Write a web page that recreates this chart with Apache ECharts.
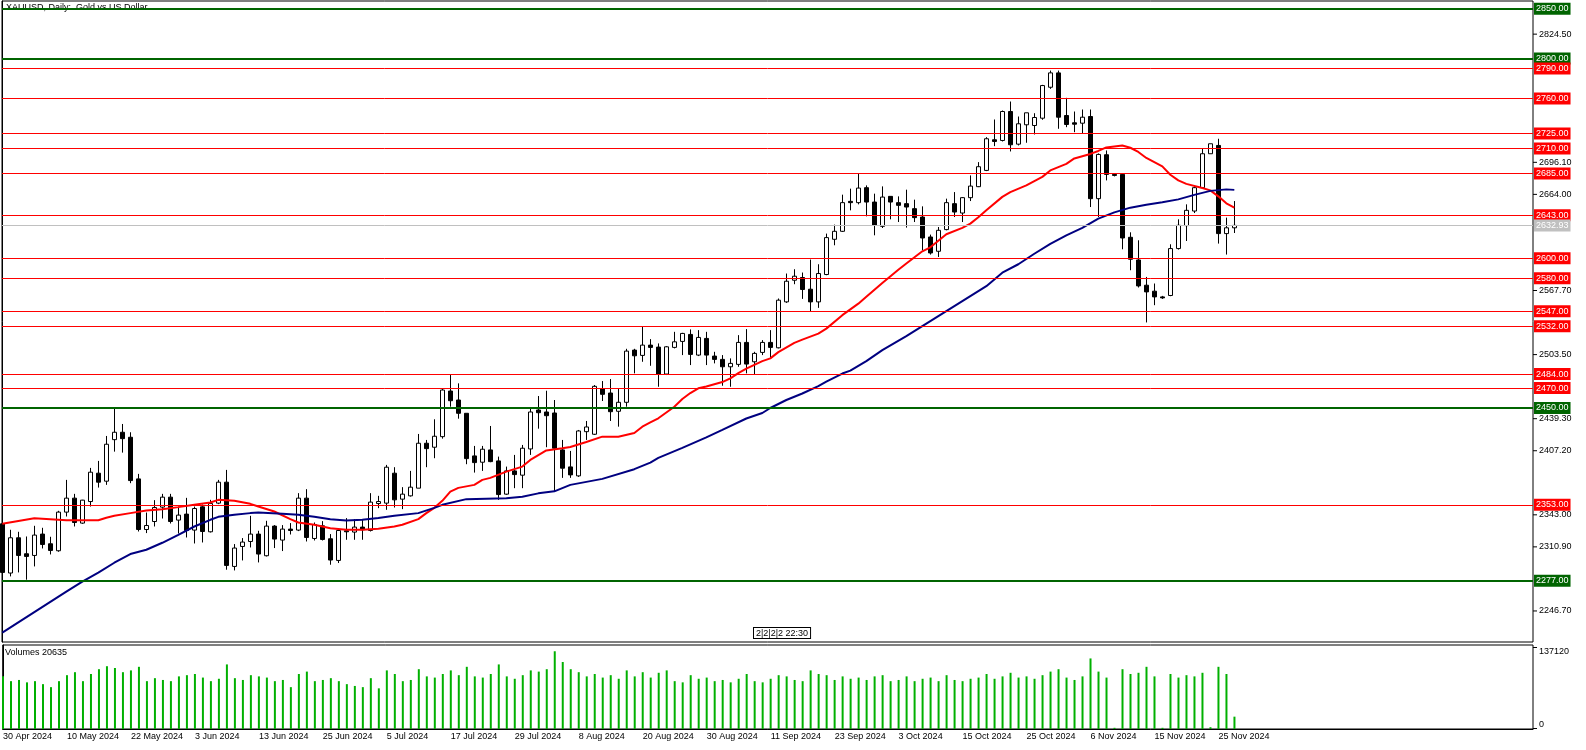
<!DOCTYPE html>
<html><head><meta charset="utf-8">
<script src="https://cdn.jsdelivr.net/npm/echarts/dist/echarts.min.js"></script>
<style>html,body{margin:0;padding:0;background:#fff}#c{width:1586px;height:750px}</style>
</head><body><div id="c"></div><script>
// ---------- data ----------
const extraSessionDays = ['10 Nov 2024','17 Nov 2024','24 Nov 2024'];
const opens = [2334,2284.7,2320,2304,2302.3,2323.7,2314,2307,2345.7,2359.7,2334.7,2356.3,2384.7,2376.7,2418.3,2425.7,2420.7,2379,2328.3,2336.3,2350.7,2360.7,2337.7,2343.7,2327.7,2351,2326,2354.7,2375.7,2291.3,2311.3,2316.3,2323.7,2302,2331.7,2317.7,2328.7,2327.7,2359.7,2319.3,2332,2319,2297.3,2327,2325.7,2330.7,2327.3,2354.3,2354.7,2384.7,2358.7,2362,2369.7,2414.7,2410.7,2421.3,2467,2458,2444.7,2402,2395.7,2408,2397,2363.7,2387,2382.7,2409,2448,2446,2445,2408,2391,2382,2426.3,2423.7,2469,2465,2446.7,2455.7,2508,2502.7,2513,2511,2484,2510.7,2516.7,2523.7,2503,2519.7,2502,2498.7,2491.3,2493.7,2515.7,2496.3,2505.7,2515.7,2510.3,2556.3,2578,2580.7,2569,2556.3,2583.7,2619,2627,2657,2655.7,2670.7,2656.3,2632,2662,2655.7,2654.7,2649.7,2641.3,2621.3,2607,2628.7,2654.7,2645.3,2660.7,2671.7,2688,2718.7,2718,2747,2714.3,2733.7,2733,2740.3,2771.3,2785.7,2743,2735.7,2735.3,2742,2659.7,2703.7,2684,2684,2621,2598.3,2573,2567,2561.3,2562.7,2609.7,2632.7,2647.3,2670.7,2704.7,2713,2624.7,2630.5];
const highs = [2336,2328,2326,2321.3,2332,2330,2321,2347,2378,2364,2358,2390,2397,2422,2449.7,2434,2425.7,2384,2345.3,2357.7,2364,2364,2351.3,2360,2351.3,2353.3,2358,2378,2388,2313.7,2319.7,2342,2327,2337,2332.7,2332.7,2334.7,2364.7,2368.7,2335.3,2336.7,2323.7,2329.7,2339.7,2338.7,2338.7,2364.7,2362,2393,2390.7,2370.7,2387,2424,2418,2438.7,2469,2483,2474.7,2444.7,2412,2412,2432,2401.3,2391.3,2403,2413,2449.7,2462,2467.3,2458,2418,2407,2428,2437,2473,2477,2479,2469,2509.3,2509.3,2531.3,2519,2514.7,2512,2526.3,2525.3,2528.7,2528,2526.3,2506.3,2503,2499.7,2523,2529,2506.3,2518,2528,2559.7,2584.7,2589,2585.7,2598.7,2594,2624.7,2633.7,2663.7,2669.7,2684.7,2673,2664.7,2672,2662,2662,2668.7,2658.7,2652,2623.7,2631.3,2659.7,2666.3,2661.3,2683,2696.3,2721.3,2739,2748,2757,2742,2745.7,2745.3,2773.7,2788,2788,2760.7,2747,2749,2749,2705,2708,2685.3,2684.7,2626,2618,2581.3,2574.7,2562.3,2614,2639,2654,2673,2709.7,2714.7,2719.7,2640.7,2657.3];
const lows = [2284,2281.3,2285.3,2278,2291.3,2309.3,2303.3,2306,2341.3,2331.3,2334,2351.3,2370.3,2373,2406.3,2405.3,2374.7,2326.3,2324.7,2331.3,2339.3,2334.3,2324.3,2320.3,2314.3,2315.3,2325.3,2353.7,2288,2287.3,2297.3,2310.3,2295.3,2301.3,2309.7,2306.7,2323.3,2326.7,2316.3,2317.3,2317.3,2293,2294.7,2318,2318,2318,2326.3,2349.7,2348,2350.3,2348.7,2361.3,2369.7,2390.7,2399.7,2419.3,2451.3,2439.3,2393.7,2385.3,2387,2395.7,2358,2363,2369.7,2369.7,2403,2429.3,2410.7,2366,2380,2380,2381,2418,2423,2457,2437,2431.3,2451.3,2484.7,2496.3,2492.3,2471.3,2483,2509.7,2503,2493,2502,2493,2494.7,2472.3,2471.3,2491.3,2484.7,2484,2503,2499.7,2509.7,2555.3,2574,2559.3,2546.3,2550.3,2583,2613,2626.3,2648,2654,2642,2623,2630.3,2639,2636.3,2630.7,2636.3,2608,2603.7,2601.3,2628,2641.3,2636.3,2657.3,2671.3,2687.3,2712.3,2717,2707,2713,2715.7,2724,2738.7,2769.7,2729.7,2731.3,2726.3,2724.7,2651.3,2641.3,2678,2682,2609,2588,2570.7,2535.7,2553,2559.3,2562,2608.7,2617.3,2645.3,2669.7,2704.7,2614.7,2603.7,2625.3];
const closes = [2285.3,2320,2302.3,2301.3,2322.7,2313.3,2307.3,2345.7,2359.7,2335.3,2357.7,2385.7,2375.7,2413.7,2425.7,2419.3,2377.3,2328.3,2332.3,2350.3,2360.7,2336.3,2342.7,2327.3,2349.3,2326.3,2354.3,2375.7,2292.3,2309.7,2315.7,2323.7,2303.7,2331.7,2318.7,2328.7,2327.3,2359.7,2320.3,2333.3,2318.3,2297.7,2327.3,2326,2330.7,2328,2355.7,2356.3,2390.7,2358,2363.7,2370.7,2414.7,2409.3,2421.7,2468,2457.3,2444.7,2399.3,2395.3,2408.7,2396.3,2363.3,2387,2383.3,2409.7,2446,2445.3,2442.3,2409.7,2389.7,2383,2427,2431,2471.7,2463.7,2446.3,2455.7,2507,2502.3,2513,2510.7,2484,2511.3,2516.3,2524.7,2503.7,2520.7,2503,2498.7,2491.3,2494.7,2515.7,2494,2504.7,2515.7,2510.7,2558,2577,2582,2568.7,2556.3,2584.7,2620.7,2627,2655.7,2655.7,2670.3,2656.3,2633,2661.3,2656.3,2653,2651.3,2640.7,2620.3,2605.3,2628,2655.7,2646.3,2660.7,2672.3,2691.7,2719.7,2717,2747,2713.7,2734.7,2745.7,2741,2773,2785.7,2741.3,2734,2734.3,2741.3,2659.7,2704,2684,2683,2620.3,2599,2572.3,2566.3,2561.3,2560.3,2609.7,2633,2648,2670.7,2704.7,2714.7,2624.7,2630.5,2632.93];
const volumes = [88000,80000,82000,78000,80000,75000,70000,80000,90000,95000,80000,92000,100000,105000,102000,95000,98000,104000,80000,85000,82000,80000,88000,90000,92000,86000,80000,84000,108000,85000,82000,90000,88000,86000,80000,82000,70000,92000,96000,80000,82000,85000,80000,75000,72000,70000,85000,68000,98000,92000,80000,82000,100000,88000,86000,92000,98000,90000,104000,88000,86000,92000,108000,88000,84000,90000,98000,96000,100000,130000,112000,100000,95000,88000,92000,86000,90000,84000,98000,88000,95000,86000,94000,98000,80000,78000,90000,84000,86000,80000,82000,78000,84000,92000,80000,78000,84000,90000,88000,82000,80000,98000,92000,90000,82000,88000,84000,86000,82000,88000,90000,80000,82000,88000,80000,84000,86000,80000,90000,82000,80000,84000,86000,92000,84000,88000,94000,86000,88000,84000,90000,96000,100000,86000,82000,88000,118000,96000,86000,2000,100000,92000,94000,104000,88000,2000,92000,86000,90000,88000,94000,3000,104000,92000,20635];
// moving averages read at sample bars: [bar index, value]
const maRed = [[0,2334],[4,2339.5],[8,2337.5],[12,2337.5],[13,2340],[14,2342],[16,2344.7],[18,2347.3],[20,2348.5],[22,2350.7],[24,2353],[26,2355.3],[27,2358],[29,2357],[31,2354],[32,2351.3],[34,2346.3],[36,2338.7],[37,2335.3],[39,2333],[41,2329.5],[43,2328],[45,2328],[47,2329],[49,2331.3],[50,2333],[52,2338.7],[53,2344.7],[54,2350],[55,2357],[56,2366.3],[57,2370],[59,2373],[60,2378],[61,2380],[63,2386.3],[65,2391.3],[66,2398],[68,2407.5],[70,2409.7],[71,2411],[73,2416],[75,2421.3],[77,2421.3],[79,2425],[80,2431.3],[81,2435.5],[82,2439.7],[84,2451.3],[85,2459],[86,2465],[87,2469.7],[88,2471.5],[90,2476],[91,2479.7],[92,2485],[93,2489.5],[95,2497],[96,2499.7],[97,2506],[99,2515.3],[100,2518.5],[102,2524.5],[103,2529.5],[105,2543],[107,2554.5],[108,2561.5],[110,2575.3],[112,2588.5],[113,2594.7],[115,2607],[116,2611],[118,2624],[120,2630.5],[121,2634.7],[122,2641],[123,2648],[125,2661.5],[126,2666.3],[128,2673],[130,2681.5],[131,2688],[133,2694.5],[134,2700],[136,2704.5],[137,2707.5],[138,2711],[140,2713],[141,2710.7],[142,2706.5],[143,2700.5],[145,2692],[146,2683.7],[147,2678],[148,2674.5],[150,2670.3],[151,2668],[152,2662],[153,2655],[154,2650.7]];
const maNavy = [[0,2225],[8,2266],[10,2276],[12,2285],[14,2295],[16,2303.7],[18,2308],[20,2315],[22,2323],[24,2331.3],[26,2338],[27,2341],[29,2343],[31,2344.7],[32,2345.3],[35,2344],[37,2343],[39,2341],[41,2338.5],[43,2337.3],[45,2338],[47,2339.7],[49,2342],[52,2344.7],[54,2350],[55,2353],[58,2358.7],[63,2359.7],[65,2361],[67,2364.5],[69,2366.5],[71,2373],[75,2379],[79,2388.7],[81,2395.3],[82,2400],[85,2410],[88,2420.5],[90,2428],[93,2439.5],[95,2445],[96,2450],[98,2458],[100,2464.5],[102,2472],[103,2476.5],[105,2484.5],[106,2487.5],[108,2497],[110,2508],[113,2522],[117,2542],[120,2557],[123,2572],[125,2585.5],[127,2594],[129,2604.5],[131,2614.5],[133,2623],[135,2630.5],[137,2639.7],[139,2646],[141,2650.7],[143,2653.5],[145,2656],[147,2659],[149,2663.5],[151,2667.5],[153,2669],[154,2668.5]];
const greenLevels = [2850, 2800, 2450, 2277];
const redLevels = [2790, 2760, 2725, 2710, 2685, 2643, 2600, 2580, 2547, 2532, 2484, 2470, 2353];
const currentPrice = 2632.93;
const priceTicks = [2246.70, 2310.90, 2343.00, 2407.20, 2439.30, 2503.50, 2567.70, 2664.00, 2696.10, 2824.50];
const volumeTicks = [0, 137120];
const volumeLabel = 'Volumes 20635';
const title = 'XAUUSD, Daily:  Gold vs US Dollar';
const timeMarker = '2|2|2|2 22:30';

// ---------- categories: trading days ----------
const MON = ['Jan','Feb','Mar','Apr','May','Jun','Jul','Aug','Sep','Oct','Nov','Dec'];
const dates = [];
for (let d = new Date(Date.UTC(2024,3,30)); dates.length < opens.length; d.setUTCDate(d.getUTCDate()+1)) {
  const s = d.getUTCDate() + ' ' + MON[d.getUTCMonth()] + ' ' + d.getUTCFullYear();
  const wd = d.getUTCDay();
  if ((wd !== 0 && wd !== 6) || extraSessionDays.includes(s)) dates.push(s);
}
const dateTickIdx = dates.map((s,i)=>i).filter(i => i % 8 === 0);

const FONT = 'Liberation Sans';
const candleData = opens.map((o,i)=>[i, o, closes[i], lows[i], highs[i]]);
const volData = volumes.map((v,i)=>[i, v]);
const xMin = -0.04, xMax = xMin + 1531/8;

function levelLine(v, color, width, textColor) {
  return { yAxis: v, lineStyle: {color: color, width: width, type: 'solid'},
    label: {show: true, position: 'end', distance: 1, formatter: v.toFixed(2), color: textColor,
      backgroundColor: color, padding: [2, 2, 1, 2], fontSize: 9, fontFamily: FONT} };
}
// axis label with a short tick drawn in front of it (MT5 style)
function tickLabel(valign, fmt) {
  return {formatter: v => '{tk|}{v|' + fmt(v) + '}',
    margin: 0, verticalAlign: valign,
    rich: {tk: {width: 4, height: 1, backgroundColor: '#000', verticalAlign: valign},
           v: {padding: [0, 0, 0, 2], color: '#000', fontSize: 9, fontFamily: FONT}}};
}
const lblMain = Object.assign(tickLabel('middle', v => v.toFixed(2)), {customValues: priceTicks});
const lblVolTop = Object.assign(tickLabel('top', v => String(v)), {customValues: [volumeTicks[1]]});
const lblVolBot = Object.assign(tickLabel('bottom', v => String(v)), {customValues: [volumeTicks[0]]});

const chart = echarts.init(document.getElementById('c'));
chart.setOption({
  animation: false,
  backgroundColor: '#fff',
  grid: [
    {left: 2, top: 1, width: 1531, height: 641, show: true, borderColor: '#000', borderWidth: 1},
    {left: 2, top: 645, width: 1531, height: 84, show: true, borderColor: '#000', borderWidth: 1}
  ],
  xAxis: [
    {type: 'value', gridIndex: 0, min: xMin, max: xMax, show: false},
    {type: 'value', gridIndex: 1, min: xMin, max: xMax, splitLine: {show: false},
     axisLine: {show: true, lineStyle: {color: '#000'}},
     axisTick: {show: false},
     axisLabel: {customValues: dateTickIdx, formatter: v => dates[v], align: 'left', margin: 3,
       color: '#000', fontSize: 9, fontFamily: FONT}}
  ],
  yAxis: [
    {type: 'value', gridIndex: 0, position: 'right', min: 2215.6, max: 2857.7, splitLine: {show: false},
     axisLine: {show: true, lineStyle: {color: '#000'}}, axisTick: {show: false}, axisLabel: lblMain},
    {type: 'value', gridIndex: 1, position: 'right', min: 0, max: 140464, splitLine: {show: false},
     axisLine: {show: true, lineStyle: {color: '#000'}}, axisTick: {show: false}, axisLabel: lblVolTop},
    {type: 'value', gridIndex: 1, position: 'right', min: 0, max: 140464, splitLine: {show: false},
     axisLine: {show: false}, axisTick: {show: false}, axisLabel: lblVolBot}
  ],
  series: [
    {type: 'line', xAxisIndex: 0, yAxisIndex: 0, data: [], z: 1, silent: true,
     markLine: {symbol: ['none','none'], silent: true, animation: false,
       data: greenLevels.map(v => levelLine(v, '#006400', 2, '#fff'))
         .concat(redLevels.map(v => levelLine(v, '#ff0000', 1, '#fff')))
         .concat([levelLine(currentPrice, '#c0c0c0', 1, '#fff')])}},
    {type: 'candlestick', xAxisIndex: 0, yAxisIndex: 0, data: candleData, encode: {x: 0, y: [1,2,3,4]},
     barWidth: 5, z: 3,
     itemStyle: {color: '#fff', color0: '#000', borderColor: '#000', borderColor0: '#000', borderWidth: 1}},
    {type: 'line', xAxisIndex: 0, yAxisIndex: 0, data: maRed, showSymbol: false, connectNulls: true, z: 4,
     lineStyle: {color: '#ff0000', width: 2}},
    {type: 'line', xAxisIndex: 0, yAxisIndex: 0, data: maNavy, showSymbol: false, connectNulls: true, z: 4,
     lineStyle: {color: '#000080', width: 2}},
    {type: 'bar', xAxisIndex: 1, yAxisIndex: 1, data: volData, barWidth: 2, itemStyle: {color: '#00b000'}}
  ],
  graphic: [
    {type: 'text', left: 6, top: 3, style: {text: title, fontSize: 9, fontFamily: FONT, fill: '#000'}},
    {type: 'text', left: 5, top: 648, style: {text: volumeLabel, fontSize: 9, fontFamily: FONT, fill: '#000'}},
    {type: 'text', left: 753, top: 627, style: {text: timeMarker, fontSize: 9, fontFamily: FONT, fill: '#000',
      backgroundColor: '#fff', borderColor: '#000', borderWidth: 1, padding: [1, 2, 0, 2]}}
  ]
});
</script></body></html>
